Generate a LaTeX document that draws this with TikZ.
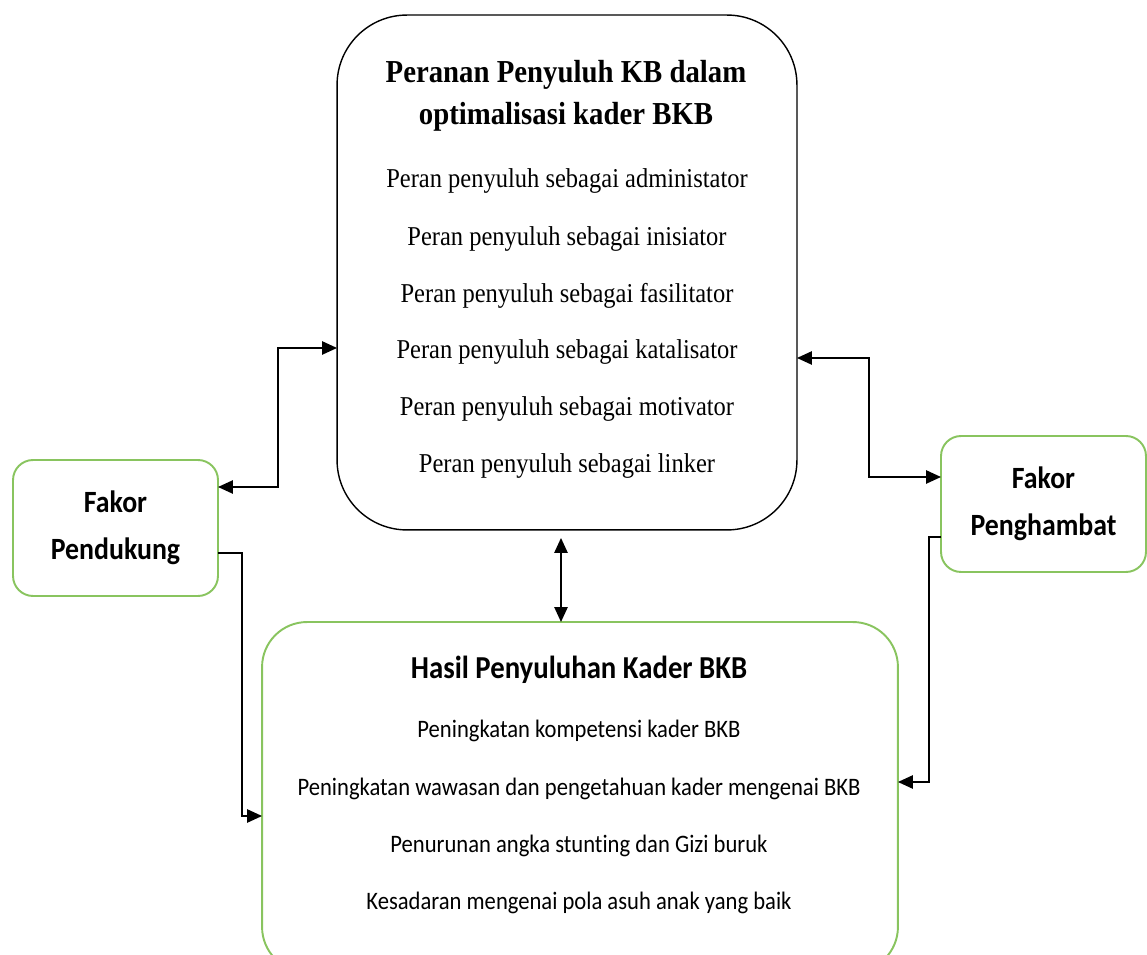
\documentclass[tikz,border=0pt]{standalone}
\usepackage{fontspec}
\setmainfont[FakeStretch=0.9]{Liberation Serif}
\newfontfamily\calibri[FakeStretch=0.9,Ligatures=NoCommon]{Carlito}
\usepackage{xcolor}
\usetikzlibrary{arrows.meta,positioning}
\definecolor{hijau}{RGB}{137,196,95}

\tikzset{
  kotakperan/.style={draw=black,line width=0.8pt,rounded corners=1.4cm,minimum width=9.2cm,minimum height=10.3cm,outer sep=0pt},
  kotakhasil/.style={draw=hijau,line width=1.1pt,rounded corners=0.9cm,minimum width=12.72cm,minimum height=7cm,outer sep=0pt},
  kotakfaktor/.style={draw=hijau,line width=1.1pt,rounded corners=0.4cm,minimum width=4.1cm,minimum height=2.72cm,outer sep=0pt,
    align=center,font=\calibri\fontsize{17.6}{27}\selectfont\bfseries},
  judulperan/.style={font=\fontsize{18.2}{20}\selectfont\bfseries},
  isiperan/.style={font=\fontsize{15.5}{17}\selectfont},
  judulhasil/.style={font=\calibri\fontsize{18.2}{18}\selectfont\bfseries},
  isihasil/.style={font=\calibri\fontsize{14.3}{16}\selectfont},
  panah/.style={line width=1.1pt,-{Triangle[length=8.5pt,width=7.5pt]}},
  panahdua/.style={line width=1.1pt,{Triangle[length=8.5pt,width=7.5pt]}-{Triangle[length=8.5pt,width=7.5pt]}},
}

\begin{document}
\begin{tikzpicture}[x=0.02cm,y=-0.02cm]
  \useasboundingbox (0,0) rectangle (1147,955);

  % kotak utama
  \node[kotakperan] (peran) at (567,272.5) {};
  \node[judulperan] (judul1) at (566,75) {Peranan Penyuluh KB dalam};
  \node[judulperan] (judul2) at (566,117) {optimalisasi kader BKB};
  \node[isiperan] (peran1) at (567,181) {Peran penyuluh sebagai administator};
  \node[isiperan] (peran2) at (567,239) {Peran penyuluh sebagai inisiator};
  \node[isiperan] (peran3) at (567,296) {Peran penyuluh sebagai fasilitator};
  \node[isiperan] (peran4) at (567,352) {Peran penyuluh sebagai katalisator};
  \node[isiperan] (peran5) at (567,409) {Peran penyuluh sebagai motivator};
  \node[isiperan] (peran6) at (567,466) {Peran penyuluh sebagai linker};

  % hasil
  \begin{scope}
    \clip (0,0) rectangle (1147,955);
    \node[kotakhasil] (hasil) at (580,797) {};
  \end{scope}
  \node[judulhasil] (judul3) at (579,670) {Hasil Penyuluhan Kader BKB};
  \node[isihasil] (hasil1) at (579,731) {Peningkatan kompetensi kader BKB};
  \node[isihasil] (hasil2) at (579,789) {Peningkatan wawasan dan pengetahuan kader mengenai BKB};
  \node[isihasil] (hasil3) at (579,846) {Penurunan angka stunting dan Gizi buruk};
  \node[isihasil] (hasil4) at (579,903) {Kesadaran mengenai pola asuh anak yang baik};

  % faktor
  \node[kotakfaktor] (dukung) at (115.5,528) {Fakor\\Pendukung};
  \node[kotakfaktor] (hambat) at (1043.5,504) {Fakor\\Penghambat};

  % panah
  \draw[panahdua] (dukung.east |- 0,487) -- (278,487) |- (peran.west |- 0,348);
  \draw[panahdua] (peran.east |- 0,358) -- (869,358) |- (hambat.west |- 0,477);
  \draw[panahdua,shorten <=0.16cm] (peran.south -| 561,0) -- (hasil.north -| 561,0);
  \draw[panah] (dukung.east |- 0,553) -- (242,553) |- (hasil.west |- 0,816);
  \draw[panah] (hambat.west |- 0,537) -- (929,537) |- (hasil.east |- 0,782);
\end{tikzpicture}
\end{document}
